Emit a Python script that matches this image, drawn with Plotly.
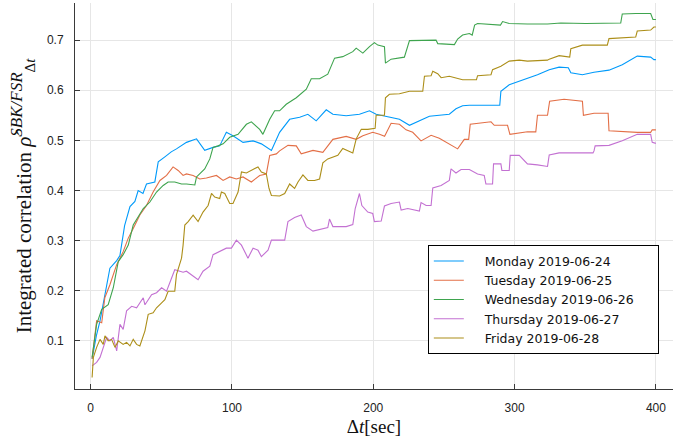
import plotly.graph_objects as go

LABELS = ["Monday 2019-06-24", "Tuesday 2019-06-25", "Wednesday 2019-06-26",
          "Thursday 2019-06-27", "Friday 2019-06-28"]
COLORS = ["#009AFA", "#E36F47", "#3EA44E", "#C371D2", "#AC8E18"]

MONDAY = [(1, 0.064), (4, 0.11), (6.6, 0.14), (10, 0.192), (13.6, 0.245), (18.4, 0.26), (20.7, 0.27),
          (24, 0.33), (27.8, 0.368), (31.3, 0.378), (33.6, 0.40), (37, 0.394), (39.5, 0.413), (45.4, 0.417),
          (47.8, 0.457), (52.5, 0.467), (57, 0.477), (60.7, 0.483), (64.3, 0.49), (67.8, 0.496), (74.9, 0.503),
          (80.7, 0.48), (86.6, 0.486), (91.3, 0.489), (96, 0.516), (100.7, 0.509), (107.8, 0.496),
          (114.9, 0.499), (120.8, 0.493), (127.9, 0.48), (133.7, 0.516), (140.8, 0.542), (147.9, 0.546),
          (153.7, 0.552), (159.6, 0.539), (166.7, 0.561), (171.4, 0.552), (180.8, 0.549), (190.2, 0.552),
          (197.3, 0.559), (202, 0.552), (209, 0.548), (218.5, 0.542), (225.6, 0.53), (232.6, 0.539),
          (239.7, 0.548), (253.8, 0.552), (258.5, 0.563), (263.2, 0.569), (268, 0.57), (289.5, 0.57),
          (290.3, 0.598), (296.2, 0.611), (303.3, 0.618), (309.1, 0.624), (316.2, 0.631), (324.5, 0.641),
          (331.5, 0.646), (338, 0.645), (339.8, 0.635), (348, 0.631), (356.2, 0.636), (366.8, 0.64),
          (376.2, 0.651), (386.8, 0.668), (396.3, 0.666), (398.6, 0.661), (400, 0.661)]

TUESDAY = [(1, 0.064), (4.2, 0.14), (7.8, 0.136), (10, 0.186), (13.6, 0.212), (18.4, 0.252), (23, 0.278),
           (26.6, 0.305), (30.1, 0.324), (34.8, 0.351), (39.5, 0.37), (44.2, 0.397), (49, 0.42), (53.7, 0.43),
           (58.3, 0.447), (61.9, 0.44), (65.4, 0.43), (67.8, 0.433), (72.5, 0.43), (77.2, 0.423),
           (81.9, 0.425), (89, 0.43), (93.7, 0.42), (98.4, 0.427), (103.1, 0.423), (107.8, 0.427),
           (113.7, 0.417), (119.6, 0.43), (124.3, 0.433), (126.7, 0.47), (131.4, 0.473), (133.7, 0.479),
           (139.6, 0.49), (145.5, 0.489), (149, 0.473), (157.3, 0.48), (164.3, 0.476), (171.4, 0.502),
           (180.8, 0.508), (187.9, 0.502), (192.6, 0.509), (199.6, 0.516), (204.4, 0.512), (208, 0.508),
           (212.6, 0.534), (218.5, 0.532), (223.2, 0.521), (227.9, 0.516), (233.8, 0.499), (240.9, 0.51),
           (246.7, 0.504), (253.8, 0.493), (259.7, 0.483), (264.4, 0.502), (267.5, 0.502), (268.6, 0.532),
           (278.5, 0.535), (283.3, 0.537), (285.6, 0.53), (295, 0.53), (296.7, 0.512), (309.1, 0.517),
           (315, 0.517), (316.2, 0.55), (323.3, 0.55), (324.8, 0.578), (335, 0.582), (348, 0.578),
           (348.7, 0.55), (356.2, 0.554), (366.2, 0.554), (366.8, 0.519), (386.8, 0.516), (396.3, 0.516),
           (397.4, 0.521), (400, 0.521)]

WEDNESDAY = [(1, 0.067), (4.2, 0.133), (7.8, 0.163), (12.4, 0.172), (16, 0.206), (19.5, 0.258), (23, 0.272),
             (26.6, 0.291), (30.1, 0.331), (33.6, 0.348), (37.2, 0.364), (41.9, 0.377), (46.6, 0.397),
             (51.3, 0.41), (54.8, 0.417), (59.5, 0.417), (64.3, 0.413), (67.8, 0.413), (73.7, 0.411),
             (74.9, 0.427), (80.7, 0.443), (84.3, 0.463), (86.6, 0.486), (90.1, 0.489), (93.7, 0.493),
             (98.4, 0.506), (104.3, 0.512), (110.2, 0.532), (113.7, 0.537), (119.6, 0.522), (121.9, 0.512),
             (126.7, 0.542), (130.2, 0.559), (133.7, 0.559), (138.4, 0.572), (145.5, 0.585), (152.6, 0.602),
             (156.1, 0.623), (162, 0.623), (167.8, 0.632), (172.6, 0.664), (178.4, 0.667), (185.5, 0.677),
             (187.9, 0.684), (192.6, 0.674), (197.3, 0.687), (200.8, 0.695), (203.2, 0.69), (207.9, 0.687),
             (208.6, 0.654), (212.6, 0.662), (222, 0.666), (225.6, 0.699), (244.4, 0.7), (245.6, 0.693),
             (257.4, 0.691), (259.7, 0.702), (263.2, 0.71), (268, 0.713), (270, 0.71), (271.7, 0.73),
             (273.8, 0.733), (283.3, 0.732), (290, 0.73), (291.5, 0.737), (296.2, 0.733), (309.1, 0.732),
             (323.3, 0.732), (332.7, 0.734), (350.4, 0.733), (375.1, 0.734), (376.2, 0.752), (385.7, 0.753),
             (396.3, 0.753), (397.9, 0.741), (400, 0.741)]

THURSDAY = [(1, 0.05), (4.2, 0.057), (6.6, 0.067), (8.9, 0.086), (11.3, 0.107), (13.6, 0.1), (16, 0.107),
            (18.4, 0.08), (20.7, 0.133), (23, 0.123), (25.4, 0.16), (29, 0.169), (32.5, 0.166), (37.2, 0.186),
            (38.4, 0.172), (43.1, 0.192), (46.6, 0.196), (50.2, 0.206), (53.7, 0.199), (57.2, 0.225),
            (59.5, 0.242), (63.1, 0.239), (65.4, 0.237), (67.8, 0.239), (72.5, 0.229), (76, 0.222),
            (79.5, 0.239), (84.3, 0.249), (86.6, 0.272), (91.3, 0.278), (96, 0.285), (99.6, 0.285),
            (103.1, 0.301), (106.7, 0.291), (111.3, 0.265), (114.9, 0.285), (118.4, 0.281), (120.8, 0.268),
            (125.5, 0.281), (127.9, 0.301), (132.6, 0.301), (137.3, 0.301), (139.6, 0.338), (144.3, 0.346),
            (149, 0.351), (152.6, 0.328), (157.3, 0.319), (163.2, 0.323), (167.8, 0.326), (169, 0.343),
            (171.4, 0.328), (180.8, 0.328), (185.5, 0.332), (187.2, 0.364), (190.2, 0.394), (191.9, 0.37),
            (196.1, 0.357), (199.6, 0.354), (200.8, 0.338), (205.6, 0.339), (207.9, 0.369), (212.6, 0.374),
            (218.5, 0.377), (219.7, 0.361), (224.4, 0.364), (232.6, 0.359), (233.8, 0.376), (237.4, 0.37),
            (240.9, 0.37), (242.1, 0.405), (248, 0.41), (253.8, 0.42), (255, 0.443), (258.5, 0.435),
            (262.1, 0.442), (268, 0.442), (273.8, 0.433), (278.5, 0.43), (279.7, 0.413), (284.4, 0.413),
            (285.1, 0.453), (290.3, 0.453), (291, 0.44), (296.2, 0.44), (296.9, 0.47), (303.3, 0.47),
            (309.1, 0.453), (316.2, 0.451), (323.3, 0.448), (324.5, 0.471), (331.5, 0.475), (355.5, 0.475),
            (356.2, 0.479), (357, 0.489), (366.8, 0.49), (376.2, 0.499), (386.8, 0.512), (396.3, 0.512),
            (397.4, 0.496), (400, 0.494)]

FRIDAY = [(1, 0.027), (1.9, 0.067), (4.2, 0.087), (6.6, 0.103), (8.9, 0.093), (10.1, 0.11), (12.4, 0.1),
          (14.8, 0.103), (17.2, 0.087), (19.5, 0.1), (23, 0.093), (25.4, 0.097), (27.8, 0.09), (30.1, 0.103),
          (32.5, 0.093), (34.8, 0.09), (38.4, 0.12), (40.7, 0.153), (44.2, 0.156), (46.6, 0.166),
          (50.2, 0.176), (52.5, 0.182), (54.8, 0.199), (58.3, 0.2), (59.5, 0.199), (60.7, 0.232),
          (64.3, 0.265), (65.4, 0.291), (66.6, 0.331), (69, 0.338), (72.5, 0.351), (76, 0.338),
          (79.5, 0.357), (83.1, 0.37), (85.5, 0.394), (87.8, 0.387), (91.3, 0.384), (92.5, 0.397),
          (94.9, 0.394), (98.4, 0.374), (100.7, 0.374), (104.3, 0.397), (105.5, 0.417), (106.7, 0.437),
          (110.2, 0.435), (113.7, 0.44), (118.4, 0.447), (120.8, 0.437), (124.3, 0.433), (126.2, 0.404),
          (127.9, 0.39), (133.7, 0.389), (137.3, 0.394), (140.8, 0.413), (144.3, 0.404), (146.7, 0.417),
          (150.2, 0.431), (153.7, 0.42), (158.4, 0.42), (162, 0.423), (164.3, 0.455), (167.8, 0.463),
          (174.9, 0.47), (178.4, 0.484), (182, 0.479), (185.5, 0.475), (187.9, 0.503), (191.5, 0.522),
          (196.1, 0.522), (201.3, 0.524), (202, 0.55), (207.9, 0.55), (208.6, 0.585), (211.4, 0.592),
          (218.5, 0.593), (220.8, 0.595), (225.6, 0.598), (235, 0.598), (236.2, 0.628), (240.9, 0.629),
          (242.1, 0.638), (245.6, 0.633), (248, 0.625), (253.8, 0.628), (263.2, 0.621), (273, 0.621),
          (273.8, 0.629), (283.3, 0.631), (284.4, 0.641), (290.3, 0.648), (296.2, 0.658), (303.3, 0.66),
          (309.1, 0.658), (323.3, 0.66), (324.5, 0.662), (331.5, 0.669), (339, 0.666), (339.8, 0.683),
          (348, 0.69), (365.6, 0.69), (366.8, 0.703), (385.7, 0.706), (386.8, 0.718), (396.3, 0.72),
          (398.6, 0.726), (400, 0.726)]

SERIES = [MONDAY, TUESDAY, WEDNESDAY, THURSDAY, FRIDAY]
X_TICKS = [0, 100, 200, 300, 400]
Y_TICKS = [0.1, 0.2, 0.3, 0.4, 0.5, 0.6, 0.7]

LEAD = "\u2007\u2007"
TRAIL = "\u2007\u2007\u2009"

fig = go.Figure()
for name, color, data in zip(LABELS, COLORS, SERIES):
    fig.add_trace(go.Scatter(
        x=[p[0] for p in data], y=[p[1] for p in data], mode="lines", name=LEAD + name + TRAIL,
        line=dict(color=color, width=1.1)))

axis_common = dict(
    showline=True, linecolor="#3a3a3a", linewidth=1, mirror=False,
    ticks="inside", ticklen=5, tickcolor="#3a3a3a", tickwidth=1,
    showgrid=True, gridcolor="#e6e6e6", gridwidth=1, zeroline=False,
    tickfont=dict(family="Liberation Sans, Arial, sans-serif", size=12, color="#222"),
)

SERIF = "Liberation Serif, Times New Roman, serif"
fig.update_xaxes(range=[-11.1, 412.1], tickvals=X_TICKS, ticklabelstandoff=8,
                 title=dict(text="Δ<i>t</i>[sec]", standoff=5,
                            font=dict(family=SERIF, size=19, color="#111")),
                 **axis_common)
fig.update_yaxes(range=[0.004, 0.774], tickvals=Y_TICKS, ticklabelstandoff=8,
                 tickformat=".1f",
                 title=dict(text=("Integrated correlation <i>ρ̂</i>"
                                  "<sup><span style='font-size:17px'><i>SBK/FSR</i></span></sup>"
                                  "<sub><span style='font-size:15px'>Δ<i>t</i></span></sub>"),
                            standoff=9,
                            font=dict(family=SERIF, size=21, color="#111")),
                 **axis_common)

fig.update_layout(
    width=688, height=437,
    margin=dict(l=75, r=15, t=3, b=45),
    paper_bgcolor="white", plot_bgcolor="white",
    showlegend=True,
    legend=dict(x=0.590, y=0.372, xanchor="left", yanchor="top",
                bgcolor="white", bordercolor="black", borderwidth=1,
                font=dict(family="DejaVu Sans, sans-serif", size=12.5, color="#111"),
                tracegroupgap=0, itemwidth=30),
)

fig.write_html("out.html")
